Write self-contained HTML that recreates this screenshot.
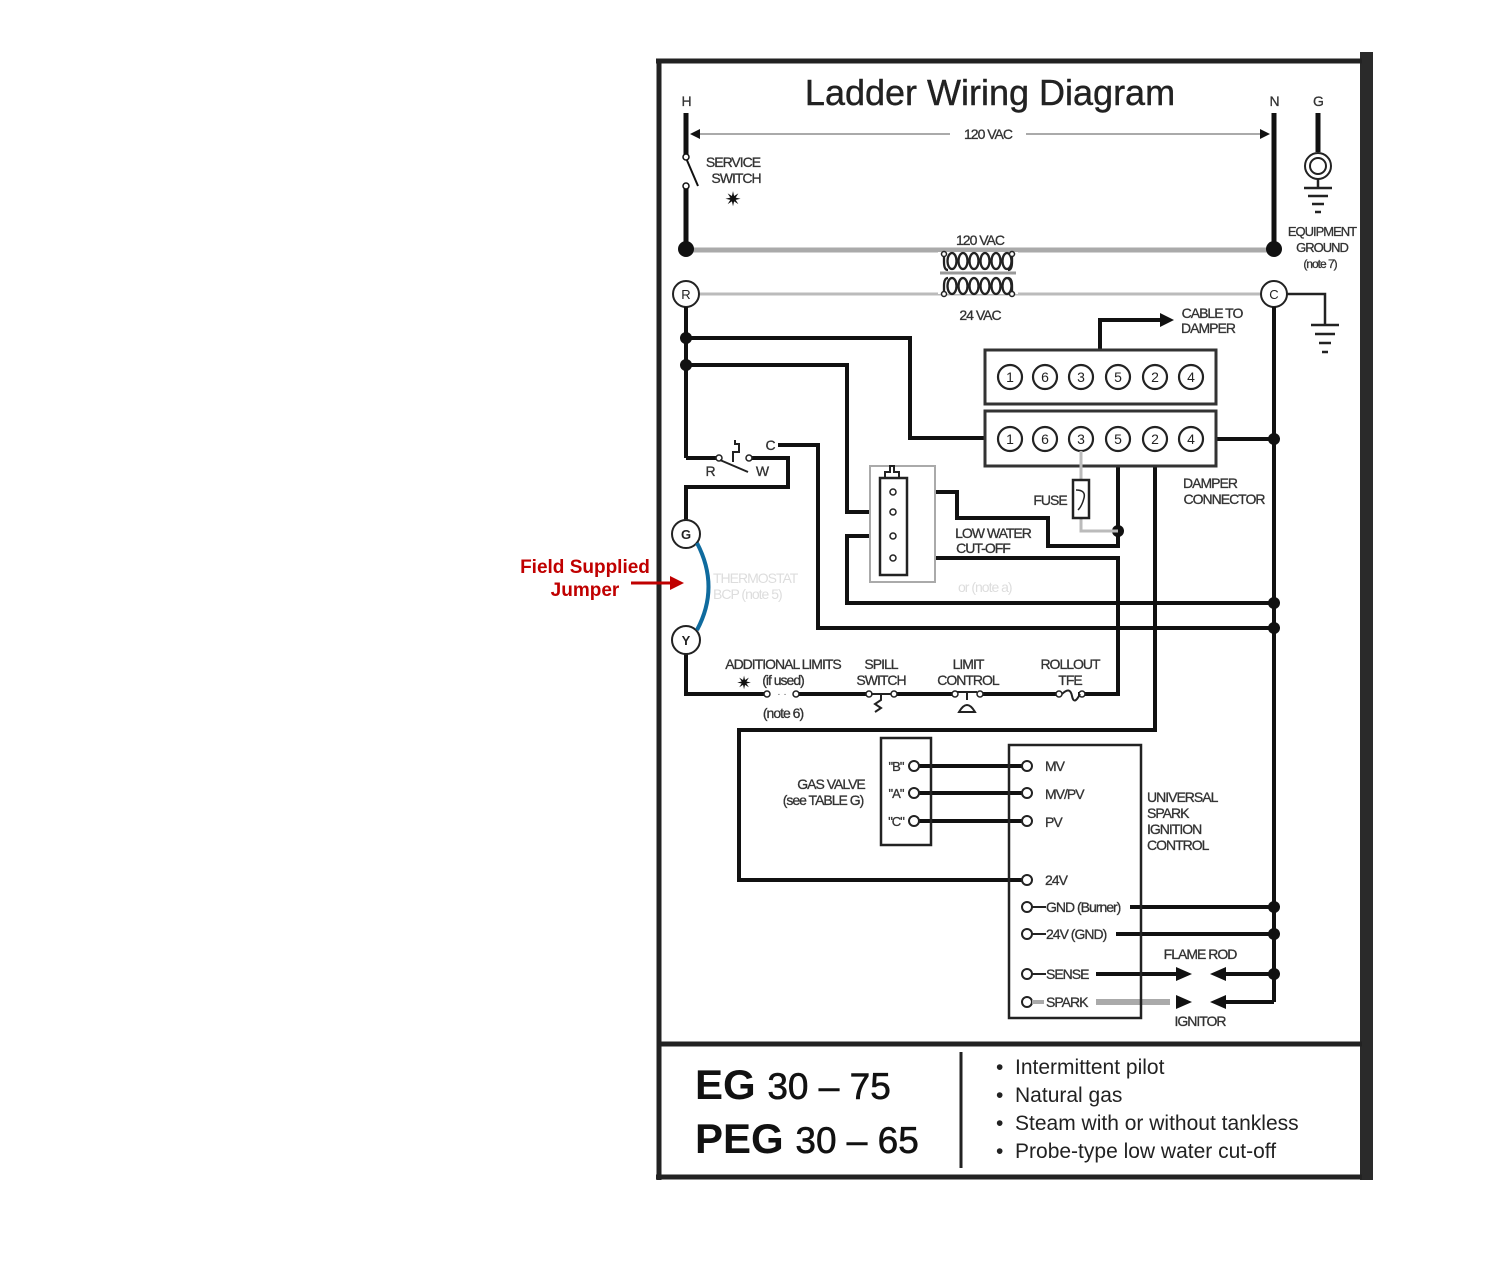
<!DOCTYPE html>
<html><head><meta charset="utf-8"><style>
html,body{margin:0;padding:0;background:#fff;}
svg{display:block;}
text{font-family:"Liberation Sans",sans-serif;}
</style></head><body>
<svg width="1500" height="1262" viewBox="0 0 1500 1262" xmlns="http://www.w3.org/2000/svg">
<!-- frame -->
<rect x="1360" y="52" width="13" height="1128" fill="#2a2a2a"/>
<line x1="656" y1="61" x2="1362" y2="61" stroke="#222" stroke-width="5"/>
<line x1="659" y1="59" x2="659" y2="1180" stroke="#222" stroke-width="5"/>
<line x1="656" y1="1177" x2="1362" y2="1177" stroke="#222" stroke-width="5"/>
<line x1="659" y1="1044" x2="1362" y2="1044" stroke="#222" stroke-width="5"/>
<line x1="961" y1="1052" x2="961" y2="1168" stroke="#222" stroke-width="3"/>

<text x="990" y="105" font-size="36" text-anchor="middle" fill="#222" stroke="#222" stroke-width="0.4">Ladder Wiring Diagram</text>

<g font-size="14" fill="#333" stroke="#333" stroke-width="0.3" text-anchor="middle" style="letter-spacing:-1px">
<text x="686" y="106">H</text><text x="1274" y="106">N</text><text x="1318" y="106">G</text>
<text x="733" y="167">SERVICE</text><text x="736" y="183">SWITCH</text>
<text x="980" y="245">120 VAC</text>
<text x="980" y="320">24 VAC</text>
<text x="1322" y="236" font-size="13">EQUIPMENT</text><text x="1322" y="252" font-size="13">GROUND</text><text x="1320" y="268" font-size="12">(note 7)</text>
<text x="1212" y="318">CABLE TO</text><text x="1208" y="333">DAMPER</text>
<text x="1210" y="488">DAMPER</text><text x="1224" y="504">CONNECTOR</text>
<text x="1050" y="505">FUSE</text>
<text x="993" y="538">LOW WATER</text><text x="983" y="553">CUT-OFF</text>
<text x="710" y="476">R</text><text x="762" y="476">W</text><text x="770" y="450">C</text>
<text x="783" y="669">ADDITIONAL LIMITS</text><text x="783" y="685">(if used)</text><text x="783" y="718">(note 6)</text>
<text x="881" y="669">SPILL</text><text x="881" y="685">SWITCH</text>
<text x="968" y="669">LIMIT</text><text x="968" y="685">CONTROL</text>
<text x="1070" y="669">ROLLOUT</text><text x="1070" y="685">TFE</text>
<text x="831" y="789">GAS VALVE</text><text x="823" y="805">(see TABLE G)</text>
<text x="896" y="771" font-size="13">"B"</text><text x="896" y="798" font-size="13">"A"</text><text x="896" y="826" font-size="13">"C"</text>
<g text-anchor="start">
<text x="1045" y="771">MV</text><text x="1045" y="799">MV/PV</text><text x="1045" y="827">PV</text>
<text x="1045" y="885">24V</text>
<text x="1046" y="912">GND (Burner)</text><text x="1046" y="939">24V (GND)</text>
<text x="1046" y="979">SENSE</text><text x="1046" y="1007">SPARK</text>
<text x="1147" y="802">UNIVERSAL</text><text x="1147" y="818">SPARK</text><text x="1147" y="834">IGNITION</text><text x="1147" y="850">CONTROL</text>
</g>
<text x="1200" y="959">FLAME ROD</text><text x="1200" y="1026">IGNITOR</text>
</g>
<g font-size="14" fill="#ddd" style="letter-spacing:-1px">
<text x="713" y="583">THERMOSTAT</text><text x="713" y="599">BCP (note 5)</text>
<text x="958" y="592">or (note a)</text>
</g>

<!-- service switch / H, N -->
<g stroke="#111" stroke-width="5" fill="none">
<line x1="686" y1="113" x2="686" y2="155"/><line x1="686" y1="186" x2="686" y2="248"/>
<line x1="1274" y1="113" x2="1274" y2="248"/>
<line x1="1318" y1="113" x2="1318" y2="152"/>
</g>
<line x1="686" y1="158" x2="698" y2="186" stroke="#111" stroke-width="2"/>
<circle cx="686" cy="157" r="3" fill="#fff" stroke="#111" stroke-width="1.5"/>
<circle cx="686" cy="186" r="3" fill="#fff" stroke="#111" stroke-width="1.5"/>
<text x="733" y="206" font-size="20" text-anchor="middle" fill="#111">✷</text>
<line x1="694" y1="134" x2="1266" y2="134" stroke="#aaa" stroke-width="2"/>
<rect x="950" y="126" width="76" height="16" fill="#fff"/>
<text x="988" y="139" font-size="14" fill="#333" stroke="#333" stroke-width="0.3" text-anchor="middle" style="letter-spacing:-1px">120 VAC</text>
<path d="M690,134 l10,-5 v10 z M1270,134 l-10,-5 v10 z" fill="#111"/>
<!-- ground G -->
<circle cx="1318" cy="166" r="13" fill="none" stroke="#222" stroke-width="2"/>
<circle cx="1318" cy="166" r="8" fill="none" stroke="#222" stroke-width="2"/>
<g stroke="#222" stroke-width="2.5"><line x1="1318" y1="179" x2="1318" y2="188"/><line x1="1304" y1="188" x2="1332" y2="188"/><line x1="1308" y1="196" x2="1328" y2="196"/><line x1="1312" y1="204" x2="1324" y2="204"/><line x1="1315" y1="212" x2="1321" y2="212"/></g>

<!-- 120V line and 24V line -->
<line x1="686" y1="250" x2="1274" y2="250" stroke="#aaa" stroke-width="5"/>
<line x1="699" y1="294" x2="1261" y2="294" stroke="#bbb" stroke-width="3"/>
<circle cx="686" cy="249" r="8" fill="#111"/><circle cx="1274" cy="249" r="8" fill="#111"/>
<!-- transformer -->
<rect x="938" y="252" width="80" height="42" fill="#fff"/>
<line x1="940" y1="273" x2="1016" y2="273" stroke="#999" stroke-width="3"/>
<g fill="none" stroke="#222" stroke-width="2.3">
<path d="M944,256 v6 q0,8 4,8"/><path d="M1012,256 v6 q0,8 -4,8"/>
<ellipse cx="952" cy="261" rx="4.5" ry="8"/><ellipse cx="963" cy="261" rx="4.5" ry="8"/><ellipse cx="974" cy="261" rx="4.5" ry="8"/><ellipse cx="985" cy="261" rx="4.5" ry="8"/><ellipse cx="996" cy="261" rx="4.5" ry="8"/><ellipse cx="1007" cy="261" rx="4.5" ry="8"/>
<path d="M944,292 v-6 q0,-8 4,-8"/><path d="M1012,292 v-6 q0,-8 -4,-8"/>
<ellipse cx="952" cy="286" rx="4.5" ry="8"/><ellipse cx="963" cy="286" rx="4.5" ry="8"/><ellipse cx="974" cy="286" rx="4.5" ry="8"/><ellipse cx="985" cy="286" rx="4.5" ry="8"/><ellipse cx="996" cy="286" rx="4.5" ry="8"/><ellipse cx="1007" cy="286" rx="4.5" ry="8"/>
</g>
<g fill="#fff" stroke="#222" stroke-width="1.5"><circle cx="944" cy="254" r="2.5"/><circle cx="1012" cy="254" r="2.5"/><circle cx="944" cy="294" r="2.5"/><circle cx="1012" cy="294" r="2.5"/></g>
<circle cx="686" cy="294" r="13" fill="#fff" stroke="#222" stroke-width="2"/>
<text x="686" y="299" font-size="13" text-anchor="middle" fill="#222">R</text>
<circle cx="1274" cy="294" r="13" fill="#fff" stroke="#222" stroke-width="2"/>
<text x="1274" y="299" font-size="13" text-anchor="middle" fill="#222">C</text>
<g stroke="#222" stroke-width="2.5" fill="none"><polyline points="1287,294 1325,294 1325,325"/><line x1="1311" y1="325" x2="1339" y2="325"/><line x1="1315" y1="334" x2="1335" y2="334"/><line x1="1319" y1="343" x2="1331" y2="343"/><line x1="1322" y1="352" x2="1328" y2="352"/></g>

<!-- black wiring -->
<g stroke="#111" stroke-width="4" fill="none" stroke-linejoin="miter">
<line x1="686" y1="307" x2="686" y2="458"/>
<polyline points="686,338 910,338 910,438 998,438"/>
<polyline points="686,365 847,365 847,512 888,512"/>
<polyline points="686,458 716,458"/>
<polyline points="752,458 788,458 788,487 686,487 686,520"/>
<polyline points="778,445 818,445 818,628 1274,628"/>
<line x1="1274" y1="307" x2="1274" y2="1002"/>
<line x1="1203" y1="439" x2="1274" y2="439"/>
<polyline points="1100,350 1100,320 1162,320"/>
<polyline points="897,492 957,492 957,518 1048,518 1048,546 1118,546 1118,451"/>
<polyline points="888,536 847,536 847,603 1274,603"/>
<polyline points="897,558 1118,558 1118,694 1078,694"/>
<polyline points="1155,451 1155,730 739,730 739,880 1022,880"/>
<polyline points="686,653 686,694 764,694"/>
<line x1="799" y1="694" x2="866" y2="694"/>
<line x1="897" y1="694" x2="952" y2="694"/>
<line x1="983" y1="694" x2="1056" y2="694"/>
<line x1="918" y1="766" x2="1022" y2="766"/><line x1="918" y1="793" x2="1022" y2="793"/><line x1="918" y1="821" x2="1022" y2="821"/>
<line x1="1130" y1="907" x2="1274" y2="907"/>
<line x1="1116" y1="934" x2="1274" y2="934"/>
<line x1="1096" y1="974" x2="1176" y2="974"/>
<polyline points="1226,974 1274,974"/>
<polyline points="1274,1002 1226,1002"/>
</g>
<path d="M1160,313 l14,7 l-14,7 z" fill="#111"/>
<path d="M1176,967 l16,7 l-16,7 z M1176,995 l16,7 l-16,7 z" fill="#111"/>
<path d="M1226,967 l-16,7 l16,7 z M1226,995 l-16,7 l16,7 z" fill="#111"/>
<line x1="1096" y1="1002" x2="1170" y2="1002" stroke="#aaa" stroke-width="6"/>
<g fill="#111"><circle cx="686" cy="338" r="6"/><circle cx="686" cy="365" r="6"/><circle cx="1274" cy="439" r="6"/><circle cx="1118" cy="531" r="6"/><circle cx="1274" cy="603" r="6"/><circle cx="1274" cy="628" r="6"/><circle cx="1274" cy="907" r="6"/><circle cx="1274" cy="934" r="6"/><circle cx="1274" cy="974" r="6"/></g>

<!-- damper boxes -->
<rect x="985" y="350" width="231" height="54" fill="#fff" stroke="#333" stroke-width="3"/>
<rect x="985" y="411" width="231" height="55" fill="#fff" stroke="#333" stroke-width="3"/>
<g font-size="14" text-anchor="middle" fill="#222">
<g fill="#fff" stroke="#222" stroke-width="2.2">
<circle cx="1010" cy="377" r="12"/><circle cx="1045" cy="377" r="12"/><circle cx="1081" cy="377" r="12"/><circle cx="1118" cy="377" r="12"/><circle cx="1155" cy="377" r="12"/><circle cx="1191" cy="377" r="12"/>
<circle cx="1010" cy="439" r="12"/><circle cx="1045" cy="439" r="12"/><circle cx="1081" cy="439" r="12"/><circle cx="1118" cy="439" r="12"/><circle cx="1155" cy="439" r="12"/><circle cx="1191" cy="439" r="12"/>
</g>
<text x="1010" y="382">1</text><text x="1045" y="382">6</text><text x="1081" y="382">3</text><text x="1118" y="382">5</text><text x="1155" y="382">2</text><text x="1191" y="382">4</text>
<text x="1010" y="444">1</text><text x="1045" y="444">6</text><text x="1081" y="444">3</text><text x="1118" y="444">5</text><text x="1155" y="444">2</text><text x="1191" y="444">4</text>
</g>
<!-- fuse -->
<polyline points="1081,451 1081,480" stroke="#bbb" stroke-width="3" fill="none"/>
<polyline points="1081,518 1081,531 1118,531" stroke="#bbb" stroke-width="3" fill="none"/>
<rect x="1073" y="480" width="16" height="38" fill="#fff" stroke="#222" stroke-width="2.5"/>
<path d="M1076,490 q10,0 8,8 q-2,8 -6,12" stroke="#222" stroke-width="1.5" fill="none"/>

<!-- LWCO -->
<rect x="870" y="466" width="65" height="116" fill="#fff" stroke="#aaa" stroke-width="2"/>
<rect x="880" y="478" width="27" height="97" fill="#fff" stroke="#222" stroke-width="2.5"/>
<g fill="#fff" stroke="#222" stroke-width="1.5"><circle cx="893" cy="492" r="3"/><circle cx="893" cy="512" r="3"/><circle cx="893" cy="536" r="3"/><circle cx="893" cy="558" r="3"/></g>
<path d="M885,478 v-6 h5 v-6 h4 v6 h5 v6" stroke="#222" stroke-width="2" fill="none"/>

<!-- thermostat symbol -->
<circle cx="719" cy="458" r="3" fill="#fff" stroke="#222" stroke-width="1.5"/>
<circle cx="749" cy="458" r="3" fill="#fff" stroke="#222" stroke-width="1.5"/>
<line x1="720" y1="460" x2="748" y2="472" stroke="#222" stroke-width="2"/>
<path d="M733,462 v-10 h6 v-8 h-4 v-4" stroke="#222" stroke-width="2" fill="none"/>

<!-- G, Y -->
<circle cx="686" cy="534" r="14" fill="#fff" stroke="#222" stroke-width="2"/>
<text x="686" y="539" font-size="13" text-anchor="middle" font-weight="bold" fill="#222">G</text>
<circle cx="686" cy="640" r="14" fill="#fff" stroke="#222" stroke-width="2"/>
<text x="686" y="645" font-size="13" text-anchor="middle" font-weight="bold" fill="#222">Y</text>
<path d="M697,543 Q720,587 697,630" stroke="#0f6b9e" stroke-width="4" fill="none"/>

<!-- limits -->
<text x="744" y="689" font-size="18" text-anchor="middle" fill="#111">✷</text>
<g fill="#fff" stroke="#222" stroke-width="1.5">
<circle cx="767" cy="694" r="3"/><circle cx="796" cy="694" r="3"/>
<circle cx="869" cy="694" r="3"/><circle cx="894" cy="694" r="3"/>
<circle cx="955" cy="694" r="3"/><circle cx="980" cy="694" r="3"/>
<circle cx="1059" cy="694" r="3"/><circle cx="1082" cy="694" r="3"/>
</g>
<text x="782" y="697" font-size="10" fill="#555" text-anchor="middle">· ·</text>
<path d="M871,694 h20 M881,694 v6 l-6,4 l6,4 l-6,4" stroke="#222" stroke-width="2" fill="none"/>
<path d="M957,692 h20 M967,692 v8 M959,712 q8,-14 16,0 z" stroke="#222" stroke-width="2" fill="none"/>
<path d="M1062,694 q8,-8 10,2 q2,10 8,-2" stroke="#222" stroke-width="2" fill="none"/>

<!-- gas valve & ignition -->
<rect x="881" y="738" width="50" height="107" fill="none" stroke="#222" stroke-width="2.5"/>
<rect x="1009" y="745" width="132" height="273" fill="none" stroke="#222" stroke-width="2.5"/>
<g fill="#fff" stroke="#222" stroke-width="2">
<circle cx="914" cy="766" r="5"/><circle cx="914" cy="793" r="5"/><circle cx="914" cy="821" r="5"/>
<circle cx="1027" cy="766" r="5"/><circle cx="1027" cy="793" r="5"/><circle cx="1027" cy="821" r="5"/><circle cx="1027" cy="880" r="5"/>
<circle cx="1027" cy="907" r="5"/><circle cx="1027" cy="934" r="5"/><circle cx="1027" cy="974" r="5"/><circle cx="1027" cy="1002" r="5"/>
</g>
<g stroke="#222" stroke-width="2"><line x1="1032" y1="907" x2="1046" y2="907"/><line x1="1032" y1="934" x2="1046" y2="934"/><line x1="1032" y1="974" x2="1046" y2="974"/></g>
<line x1="1032" y1="1002" x2="1044" y2="1002" stroke="#aaa" stroke-width="4"/>

<!-- footer -->
<text x="695" y="1099" font-size="42" font-weight="bold" fill="#111">EG <tspan font-size="37" font-weight="normal" stroke="#111" stroke-width="0.6">30 – 75</tspan></text>
<text x="695" y="1153" font-size="42" font-weight="bold" fill="#111">PEG <tspan font-size="37" font-weight="normal" stroke="#111" stroke-width="0.6">30 – 65</tspan></text>
<g font-size="21" fill="#222">
<text x="996" y="1074">•&#160; Intermittent pilot</text>
<text x="996" y="1102">•&#160; Natural gas</text>
<text x="996" y="1130">•&#160; Steam with or without tankless</text>
<text x="996" y="1158">•&#160; Probe-type low water cut-off</text>
</g>

<!-- annotation -->
<text x="585" y="573" font-size="19" font-weight="bold" fill="#c00000" text-anchor="middle">Field Supplied</text>
<text x="585" y="596" font-size="19" font-weight="bold" fill="#c00000" text-anchor="middle">Jumper</text>
<line x1="631" y1="583" x2="672" y2="583" stroke="#c00000" stroke-width="3"/>
<path d="M670,576 l14,7 l-14,7 z" fill="#c00000"/>
</svg>
</body></html>
